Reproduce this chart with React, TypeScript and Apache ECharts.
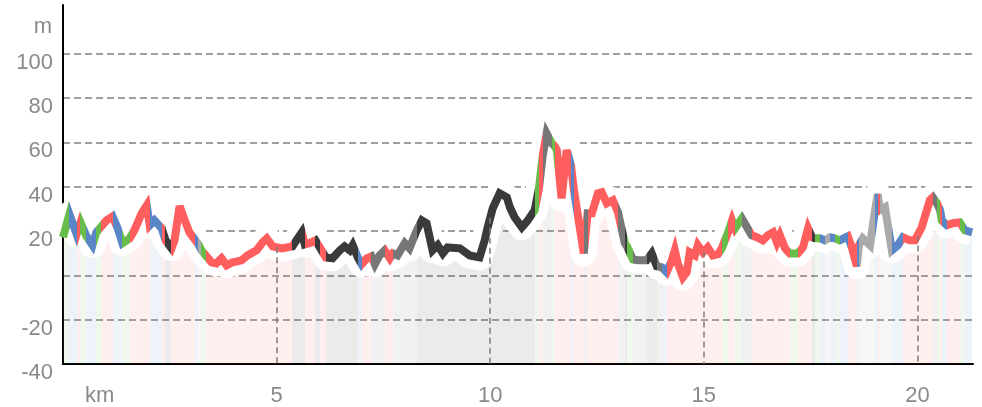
import React, { useEffect, useRef } from "react";
import * as echarts from "echarts";

// distance (km) of each profile vertex
const KM = [
  0, 0.15, 0.32, 0.41, 0.55, 0.69, 0.78, 0.88, 1.02, 1.16,
  1.28, 1.39, 1.56, 1.67, 1.84, 1.96, 2.03, 2.14, 2.31, 2.40,
  2.54, 2.61, 2.73, 2.85, 2.96, 3.10, 3.17, 3.24, 3.34, 3.48,
  3.59, 3.71, 3.83, 3.97, 4.18, 4.32, 4.53, 4.67, 4.77, 4.91,
  5.12, 5.37, 5.59, 5.66, 5.77, 5.91, 6.01, 6.15, 6.31, 6.48,
  6.59, 6.71, 6.78, 6.90, 6.99, 7.11, 7.22, 7.30, 7.41, 7.53,
  7.65, 7.72, 7.83, 8.00, 8.11, 8.28, 8.40, 8.51, 8.65, 8.77,
  8.89, 9.00, 9.29, 9.52, 9.75, 9.87, 9.94, 10.06, 10.22, 10.39,
  10.46, 10.57, 10.74, 10.88, 11.04, 11.14, 11.23, 11.32, 11.44, 11.51,
  11.56, 11.67, 11.79, 11.89, 11.96, 12.19, 12.28, 12.38, 12.52, 12.61,
  12.73, 12.87, 12.99, 13.15, 13.20, 13.34, 13.45, 13.66, 13.78, 13.90,
  14.02, 14.13, 14.25, 14.32, 14.39, 14.51, 14.60, 14.67, 14.79, 14.86,
  14.98, 15.09, 15.21, 15.33, 15.42, 15.56, 15.66, 15.73, 15.89, 16.12,
  16.24, 16.38, 16.50, 16.62, 16.71, 16.78, 16.90, 17.01, 17.20, 17.32,
  17.44, 17.53, 17.60, 17.72, 17.83, 17.95, 18.07, 18.18, 18.37, 18.47,
  18.58, 18.63, 18.72, 18.89, 19.00, 19.07, 19.12, 19.24, 19.40, 19.54,
  19.66, 19.82, 19.94, 20.10, 20.29, 20.36, 20.46, 20.53, 20.57, 20.69,
  20.83, 20.99, 21.11, 21.28,
];

// elevation (m) at each vertex
const ELEV = [
  17.2, 27.6, 18.5, 23.9, 17.6, 13.6, 19.4, 21.7, 24.8, 26.6,
  21.2, 14.5, 16.7, 20.3, 28.0, 31.6, 22.6, 24.8, 21.2, 15.8,
  12.2, 15.8, 31.2, 24.8, 19.4, 15.8, 14.0, 11.3, 9.0, 5.9,
  5.4, 7.7, 4.5, 5.9, 6.8, 9.0, 11.3, 14.9, 16.7, 13.1,
  12.2, 13.1, 19.4, 14.0, 14.5, 15.8, 12.6, 8.1, 7.7, 11.3,
  13.1, 11.3, 13.6, 8.1, 5.0, 7.7, 8.6, 5.0, 9.0, 11.3,
  7.7, 9.9, 9.0, 14.5, 12.2, 20.3, 24.8, 23.5, 11.3, 13.6,
  9.9, 12.6, 12.2, 9.0, 8.1, 15.8, 21.7, 30.3, 37.0, 35.2,
  30.7, 26.2, 21.7, 24.8, 29.4, 39.3, 54.2, 64.1, 59.6, 58.3,
  56.5, 34.8, 56.5, 49.7, 38.4, 9.9, 28.0, 28.0, 37.0, 37.5,
  32.5, 33.9, 28.5, 14.5, 13.1, 7.2, 6.8, 6.8, 9.9, 4.1,
  3.6, 1.4, 6.8, 11.3, 5.4, -0.9, 1.4, 10.4, 9.0, 13.6,
  10.4, 12.6, 9.0, 9.5, 12.2, 19.0, 24.8, 21.2, 25.7, 18.1,
  17.2, 15.8, 18.1, 19.4, 14.9, 18.1, 12.2, 9.9, 9.9, 12.6,
  21.2, 17.2, 16.7, 16.7, 15.8, 17.2, 16.7, 15.8, 17.6, 12.2,
  4.1, 13.6, 16.7, 13.6, 28.5, 36.6, 29.4, 30.7, 11.3, 13.6,
  17.2, 15.8, 15.8, 21.7, 33.9, 35.2, 32.5, 29.4, 24.8, 22.6,
  23.5, 23.9, 20.3, 19.4,
];

// colour class of the segment that starts at each vertex
const SEGMENTS = (
  "GBRGBBGRRB" + "BGRRRRBBRK" + "RRRRRBLGRR" + "RRRRRRRRRR" +
  "RKKRRKRKKK" + "KKKBRRDDDR" + "RDDDDKKKKK" + "KKKKKKKKKK" +
  "KKKKGRDDGR" + "RRRBRDRRRR" + "RRDKGDDKKD" + "BRRRRRRRRR" +
  "RRRRGRRGDR" + "RRRRRRRGRR" + "RKGBLBGBRR" + "BLLLBRLLBB" +
  "RRRRRDGRBR" + "RGB"
).split("");

const PALETTE: Record<string, string> = {
  R: "#ff5e5e",
  B: "#5a86c8",
  G: "#68bd4a",
  K: "#3a3a3a",
  D: "#777777",
  L: "#aaaaaa",
};

const X_LABELS = [5, 10, 15, 20];
const V_LINES_KM = [5, 10, 15, 20];
const HIDDEN_Y_LABELS = [0];

const LABEL_COLOR = "#8a8a8a";
const FONT = "'Liberation Sans', Arial, sans-serif";
const FONT_SIZE = 22;

function elevAt(k: number): number {
  for (let i = 0; i < KM.length - 1; i++) {
    if (k >= KM[i] && k <= KM[i + 1]) {
      const t = (k - KM[i]) / (KM[i + 1] - KM[i]);
      return ELEV[i] + t * (ELEV[i + 1] - ELEV[i]);
    }
  }
  return ELEV[ELEV.length - 1];
}

export default function App() {
  const ref = useRef<HTMLDivElement>(null);

  useEffect(() => {
    if (!ref.current) return;
    const chart = echarts.init(ref.current, null, { renderer: "svg" });
    const data = KM.map((k, i) => [k, ELEV[i]]);

    const pieces: any[] = [];
    for (let i = 0; i < SEGMENTS.length; i++) {
      const color = PALETTE[SEGMENTS[i]];
      const last = pieces[pieces.length - 1];
      if (last && last.color === color) {
        last.lt = KM[i + 1];
      } else {
        pieces.push({ gte: i === 0 ? -1 : KM[i], lt: KM[i + 1], color });
      }
    }
    pieces[pieces.length - 1].lt = 30;

    const gridColors = [
      "#808080", "#808080", "#808080", "#808080",
      "#808080", "#808080", "#808080", "#808080", "rgba(0,0,0,0)",
    ];

    chart.setOption({
      animation: false,
      grid: { left: 63, right: 9, top: 5, bottom: 43, containLabel: false },
      visualMap: {
        show: false,
        type: "piecewise",
        dimension: 0,
        seriesIndex: [0, 2],
        pieces,
        outOfRange: { color: PALETTE.R },
      },
      xAxis: {
        type: "value",
        min: 0,
        max: 21.3,
        interval: 5,
        axisLine: { show: true, onZero: false, lineStyle: { color: "#000", width: 2 } },
        axisTick: { show: false },
        splitLine: { show: false },
        axisLabel: {
          formatter: (v: number) => (X_LABELS.includes(v) ? String(v) : ""),
          color: LABEL_COLOR,
          fontSize: FONT_SIZE,
          fontFamily: FONT,
          margin: 22,
          lineHeight: 16,
        },
      },
      yAxis: {
        type: "value",
        min: -40,
        max: 122,
        interval: 20,
        axisLine: { show: true, onZero: false, lineStyle: { color: "#000", width: 2 } },
        axisTick: { show: false },
        splitLine: {
          show: true,
          showMaxLine: false,
          lineStyle: { color: gridColors, type: [7, 4], width: 1.5 },
        },
        axisLabel: {
          formatter: (v: number) => (HIDDEN_Y_LABELS.includes(v) || v > 100 ? "" : String(v)),
          color: LABEL_COLOR,
          fontSize: FONT_SIZE,
          fontFamily: FONT,
          margin: 10,
          verticalAlign: "top",
          lineHeight: 15,
        },
      },
      graphic: [
        {
          type: "text",
          x: 52,
          y: 25,
          style: {
            text: "m",
            fill: LABEL_COLOR,
            font: `${FONT_SIZE}px ${FONT}`,
            textAlign: "right",
            textVerticalAlign: "middle",
          },
        },
        {
          type: "text",
          x: 85,
          y: 394,
          style: {
            text: "km",
            fill: LABEL_COLOR,
            font: `${FONT_SIZE}px ${FONT}`,
            textAlign: "left",
            textVerticalAlign: "middle",
          },
        },
      ],
      series: [
        {
          type: "line",
          data,
          symbol: "none",
          silent: true,
          z: 1,
          lineStyle: { width: 0, opacity: 0 },
          areaStyle: { opacity: 0.1, origin: "start" },
          markLine: {
            silent: true,
            symbol: ["none", "none"],
            label: { show: false },
            emphasis: { disabled: true },
            lineStyle: { color: "#847878", type: [6, 4], width: 1.5 },
            data: V_LINES_KM.map((k) => [
              { coord: [k, elevAt(k)] },
              { coord: [k, -40] },
            ]),
          },
        },
        {
          type: "line",
          data,
          symbol: "none",
          silent: true,
          z: 3,
          lineStyle: { color: "#ffffff", width: 26, join: "round" },
        },
        {
          type: "line",
          data,
          symbol: "none",
          silent: true,
          z: 4,
          lineStyle: { width: 8, join: "miter", miterLimit: 4, cap: "butt" },
        },
      ],
    });

    return () => chart.dispose();
  }, []);

  return (
    <div
      ref={ref}
      style={{ position: "fixed", left: 0, top: 0, width: 982, height: 407 }}
    />
  );
}
